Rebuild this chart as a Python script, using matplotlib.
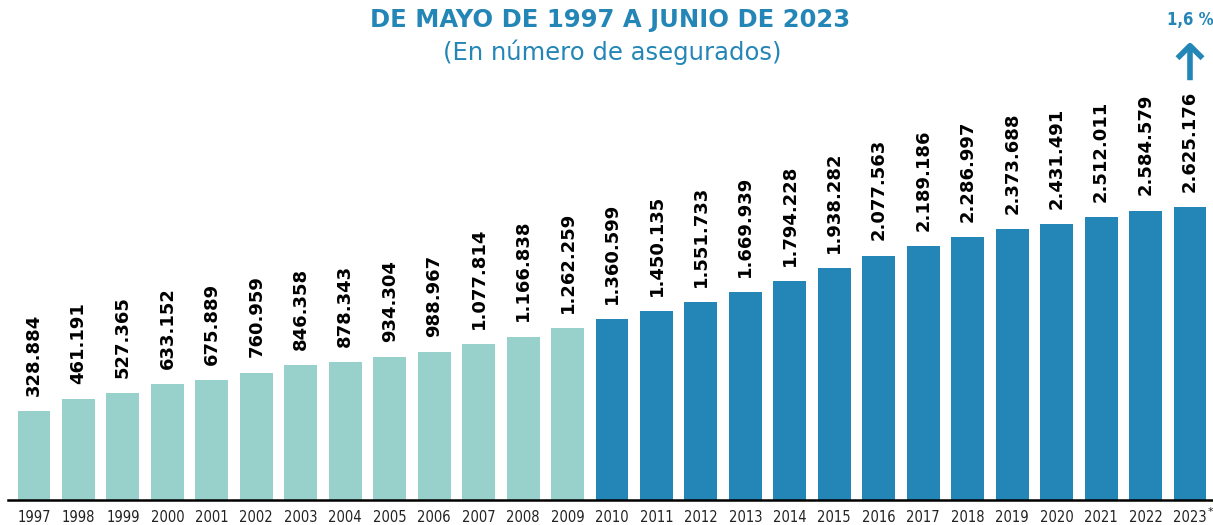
"""Asegurados de mayo de 1997 a junio de 2023."""

import matplotlib

matplotlib.use("Agg")
import matplotlib.pyplot as plt
import numpy as np

years = ["1997", "1998", "1999", "2000", "2001", "2002", "2003", "2004", "2005",
         "2006", "2007", "2008", "2009", "2010", "2011", "2012", "2013", "2014",
         "2015", "2016", "2017", "2018", "2019", "2020", "2021", "2022", "2023"]
insured = [328884, 461191, 527365, 633152, 675889, 760959, 846358, 878343, 934304,
           988967, 1077814, 1166838, 1262259, 1360599, 1450135, 1551733, 1669939, 1794228,
           1938282, 2077563, 2189186, 2286997, 2373688, 2431491, 2512011, 2584579, 2625176]
growth_label = "1,6 %"
title = "DE MAYO DE 1997 A JUNIO DE 2023"
subtitle = "(En número de asegurados)"

LIGHT = "#98d0cb"
DARK = "#2386b6"

fig = plt.figure(figsize=(12.13, 5.25), dpi=100)
ax = fig.add_axes([0, 25 / 525, 1, 500 / 525])

x = np.arange(len(years))
colors = [LIGHT if int(y) < 2010 else DARK for y in years]

# the bars start below zero in the original, so the scale is shifted down
px_per_unit = 88.8 / 1e6
y_bottom = -59.8 / px_per_unit
ax.bar(x, [v - y_bottom for v in insured], bottom=y_bottom, width=0.74, color=colors)
ax.set_ylim(y_bottom, y_bottom + 500 / px_per_unit)
ax.set_xlim(-34 / 44.46, 26 + 23 / 44.46)

for xi, v in zip(x, insured):
    label = f"{v:,}".replace(",", ".")
    ax.annotate(label, (xi, v), xytext=(0, 11), textcoords="offset points",
                rotation=90, ha="center", va="bottom", fontsize=13,
                fontweight="bold", color="black")

ax.axhline(y_bottom, xmin=8 / 1213, xmax=1, color="black", lw=1.8, clip_on=False)
ax.set_xticks(x)
ax.set_xticklabels(years, fontsize=10.5, color="#222222", fontstretch="condensed")
ax.tick_params(axis="x", length=0, pad=7)
ax.set_yticks([])
for side in ax.spines.values():
    side.set_visible(False)
ax.patch.set_alpha(0)

# small asterisk on the last year
ax.annotate("*", (x[-1], y_bottom), xytext=(13, -9), textcoords="offset points",
            ha="left", va="center", fontsize=8, color="#222222")

fig.text(610 / 1213, 1 - 20 / 525, title, ha="center", va="center",
         fontsize=17.5, fontweight="bold", color=DARK)
fig.text(612 / 1213, 1 - 52 / 525, subtitle, ha="center", va="center",
         fontsize=17.5, color=DARK)
fig.text(1190 / 1213, 1 - 20 / 525, growth_label, ha="center", va="center",
         fontsize=12, fontweight="bold", color=DARK, fontstretch="condensed")
ax.annotate("", xy=(1190 / 1213, 1 - 39 / 525), xytext=(1190 / 1213, 1 - 83 / 525),
            xycoords="figure fraction", textcoords="figure fraction",
            arrowprops=dict(arrowstyle="->,head_width=0.9,head_length=0.9",
                            color=DARK, lw=4, capstyle="butt"))

fig.savefig("out.png", dpi=100)
